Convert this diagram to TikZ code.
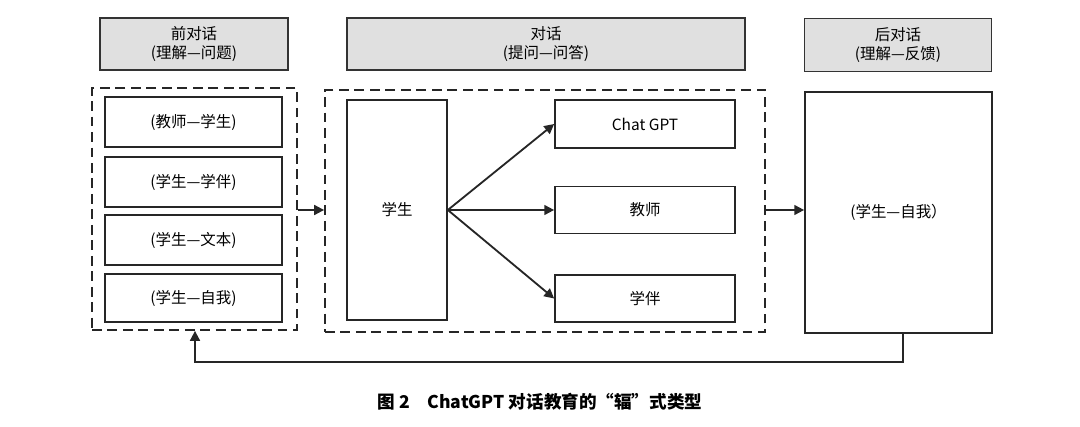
\documentclass[tikz,border=0pt]{standalone}
\usepackage{fontspec}
\setmainfont{Noto Sans CJK SC}
\usetikzlibrary{arrows.meta}
\begin{document}
\begin{tikzpicture}[x=0.025cm,y=-0.025cm,
  hdr/.style={draw=black!80,fill=black!12,line width=1pt,font=\fontsize{11}{13}\selectfont,align=center},
  box/.style={draw=black!85,line width=1.2pt,font=\fontsize{11}{12}\selectfont},
  dbox/.style={draw=black!85,line width=1.3pt,dash pattern=on 7pt off 4pt},
  arr/.style={draw=black!85,line width=1.3pt,-{Triangle[length=7pt,width=7pt]}}]
\useasboundingbox (0,0) rectangle (1080,427);
\node[hdr,minimum width=188*0.025cm,minimum height=52*0.025cm] (h1) at (194,44) {前对话\\(理解—问题)};
\node[hdr,minimum width=398*0.025cm,minimum height=52*0.025cm] (h2) at (546,44) {对话\\(提问—问答)};
\node[hdr,minimum width=187*0.025cm,minimum height=53*0.025cm] (h3) at (898,45) {后对话\\(理解—反馈)};
\node[dbox,minimum width=205*0.025cm,minimum height=242*0.025cm] (L) at (194.5,209) {};
\node[box,minimum width=177*0.025cm,minimum height=50*0.025cm] (l1) at (193.5,122) {(教师—学生)};
\node[box,minimum width=177*0.025cm,minimum height=50*0.025cm] (l2) at (193.5,182) {(学生—学伴)};
\node[box,minimum width=177*0.025cm,minimum height=50*0.025cm] (l3) at (193.5,240) {(学生—文本)};
\node[box,minimum width=177*0.025cm,minimum height=48*0.025cm] (l4) at (193.5,298) {(学生—自我)};
\node[dbox,minimum width=440*0.025cm,minimum height=242*0.025cm] (M) at (545,211) {};
\node[box,minimum width=100*0.025cm,minimum height=220*0.025cm] (s) at (397,210) {学生};
\node[box,minimum width=180*0.025cm,minimum height=48*0.025cm] (c1) at (645,124) {Chat GPT};
\node[box,minimum width=180*0.025cm,minimum height=47*0.025cm] (c2) at (645,210) {教师};
\node[box,minimum width=180*0.025cm,minimum height=47*0.025cm] (c3) at (645,298.5) {学伴};
\node[box,minimum width=187*0.025cm,minimum height=241*0.025cm] (R) at (898.5,212.5) {(学生—自我）};
\draw[arr] (s.east) -- (c1.west);
\draw[arr] (s.east) -- (c2.west);
\draw[arr] (s.east) -- (c3.west);
\draw[arr] (L.east |- 0,210) -- (M.west |- 0,210);
\draw[arr] (M.east |- 0,210) -- (R.west |- 0,210);
\coordinate (a) at (903,362);
\coordinate (b) at (195,362);
\draw[arr] (R.south -| a) -- (a) -- (b) -- (L.south -| b);
\node[font=\fontsize{12.5}{14}\selectfont\bfseries] (cap) at (540,402) {图 2\quad ChatGPT 对话教育的“辐”式类型};
\end{tikzpicture}
\end{document}
